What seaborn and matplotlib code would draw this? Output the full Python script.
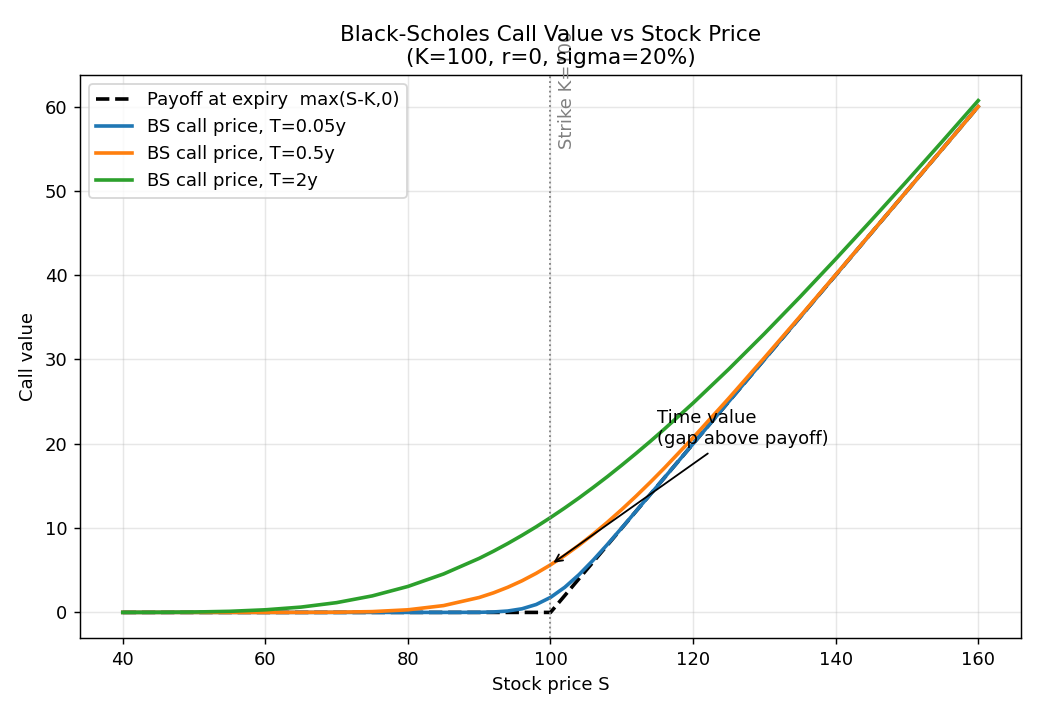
import numpy as np
import matplotlib
matplotlib.use("Agg")
import matplotlib.pyplot as plt
import seaborn as sns

# stock price grid (finer near the strike)
stock = [40, 45, 50, 55, 60, 65, 70, 75, 80, 85,
         90, 92, 94, 96, 98, 100, 102, 104, 106, 108, 110, 112, 114, 116,
         120, 125, 130, 135, 140, 145, 150, 155, 160]

payoff = [0, 0, 0, 0, 0, 0, 0, 0, 0, 0,
          0, 0, 0, 0, 0, 0, 2, 4, 6, 8, 10, 12, 14, 16,
          20, 25, 30, 35, 40, 45, 50, 55, 60]

call_t005 = [0, 0, 0, 0, 0, 0, 0, 0, 0, 0.0002,
             0.013, 0.052, 0.165, 0.43, 0.94, 1.78, 2.98, 4.48, 6.21, 8.08, 10.03, 12.01, 14.00, 16.00,
             20.0, 25.0, 30.0, 35.0, 40.0, 45.0, 50.0, 55.0, 60.0]

call_t05 = [0, 0, 0, 0, 0.0005, 0.004, 0.022, 0.095, 0.31, 0.81,
            1.77, 2.32, 2.98, 3.75, 4.64, 5.64, 6.75, 7.97, 9.29, 10.71, 12.21, 13.79, 15.44, 17.15,
            20.72, 25.39, 30.20, 35.10, 40.05, 45.02, 50.01, 55.00, 60.00]

call_t2 = [0.003, 0.014, 0.046, 0.13, 0.31, 0.63, 1.16, 1.96, 3.08, 4.56,
           6.41, 7.26, 8.17, 9.14, 10.16, 11.25, 12.39, 13.58, 14.83, 16.12, 17.47, 18.86, 20.29, 21.77,
           24.83, 28.85, 33.06, 37.42, 41.91, 46.50, 51.17, 55.91, 60.71]

strike = 100
strike_value_t05 = 5.64

fig, ax = plt.subplots(figsize=(8, 5.5), dpi=130)

sns.lineplot(x=stock, y=payoff, ax=ax, color="black", linestyle="--", linewidth=2,
             label="Payoff at expiry  max(S-K,0)")
sns.lineplot(x=stock, y=call_t005, ax=ax, color="#1f77b4", linewidth=2, label="BS call price, T=0.05y")
sns.lineplot(x=stock, y=call_t05, ax=ax, color="#ff7f0e", linewidth=2, label="BS call price, T=0.5y")
sns.lineplot(x=stock, y=call_t2, ax=ax, color="#2ca02c", linewidth=2, label="BS call price, T=2y")

ax.axvline(strike, color="gray", linestyle=":", linewidth=1)
ax.text(strike + 1, 55, "Strike K=100", rotation=90, color="gray", va="bottom", ha="left")

ax.annotate("Time value\n(gap above payoff)", xy=(strike, strike_value_t05), xytext=(115, 20),
            arrowprops=dict(arrowstyle="->", color="black"))

ax.set_title("Black-Scholes Call Value vs Stock Price\n(K=100, r=0, sigma=20%)")
ax.set_xlabel("Stock price S")
ax.set_ylabel("Call value")
ax.grid(True, alpha=0.3)
ax.legend(loc="upper left")

fig.subplots_adjust(left=80 / 1040, right=1021 / 1040, top=1 - 75 / 715, bottom=1 - 638 / 715)
plt.savefig("out.png")
